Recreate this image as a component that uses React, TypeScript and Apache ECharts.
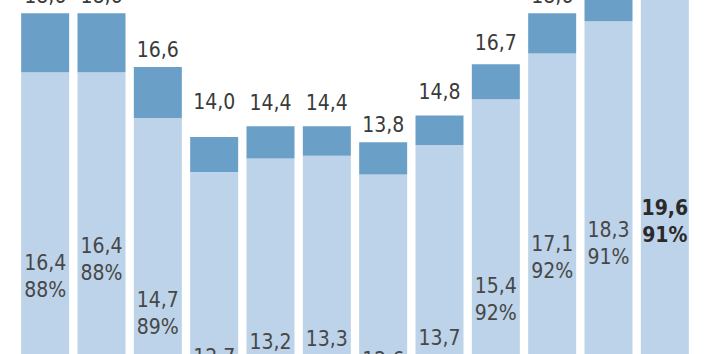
import React, { useEffect, useRef } from "react";
import * as echarts from "echarts";

// Data (values in the original units)
const CATEGORIES = ["1", "2", "3", "4", "5", "6", "7", "8", "9", "10", "11", "12"];
const TOTAL = [18.6, 18.6, 16.6, 14.0, 14.4, 14.4, 13.8, 14.8, 16.7, 18.6, 20.1, 21.5];
const PART = [16.4, 16.4, 14.7, 12.7, 13.2, 13.3, 12.6, 13.7, 15.4, 17.1, 18.3, 19.6];
const SHARE = [88, 88, 89, 91, 92, 92, 91, 93, 92, 92, 91, 91];

const fmt = (v: number) => v.toFixed(1).replace(".", ",");

export default function App() {
  const ref = useRef<HTMLDivElement>(null);
  useEffect(() => {
    if (!ref.current) return;
    const chart = echarts.init(ref.current, undefined, { renderer: "svg" });
    const font = "'DejaVu Sans Condensed', 'Liberation Sans Narrow', 'DejaVu Sans', sans-serif";
    // per-bar label placement (styling)
    const insideDrop = [177, 160, 168, 172, 170, 170, 172, 180, 173, 177, 195, 194];
    const topGap = [6, 6, 6, 24, 12, 12, 6, 12, 10, 6, 6, 6];
    const last = CATEGORIES.length - 1;
    chart.setOption({
      animation: false,
      grid: { left: 17, right: 15, top: 0, bottom: 0 },
      xAxis: {
        type: "category",
        data: CATEGORIES,
        show: false,
      },
      yAxis: {
        type: "value",
        min: 5.93,
        max: 19.09,
        show: false,
      },
      series: [
        {
          type: "bar",
          stack: "s",
          barWidth: 48,
          clip: true,
          itemStyle: { color: "#bdd3e9" },
          data: PART.map((v, i) => ({
            value: v,
            label: {
              show: true,
              position: "insideTop",
              distance: insideDrop[i],
              fontFamily: font,
              fontSize: 21,
              lineHeight: 27,
              color: i === last ? "#2a2a2a" : "#474747",
              fontWeight: i === last ? "bold" : "normal",
              formatter: () => fmt(PART[i]) + "\n" + SHARE[i] + "%",
            },
          })),
        },
        {
          type: "bar",
          stack: "s",
          barWidth: 48,
          clip: true,
          itemStyle: { color: "#6aa0c8" },
          data: TOTAL.map((t, i) => ({
            value: +(t - PART[i]).toFixed(1),
            label: {
              show: true,
              position: "top",
              distance: topGap[i],
              fontFamily: font,
              fontSize: 21,
              lineHeight: 22,
              color: "#3a3a3a",
              formatter: () => fmt(TOTAL[i]),
            },
          })),
        },
      ],
    });
    return () => chart.dispose();
  }, []);
  return (
    <div
      ref={ref}
      style={{ position: "fixed", left: 0, top: 0, width: 708, height: 354, background: "#ffffff" }}
    />
  );
}
